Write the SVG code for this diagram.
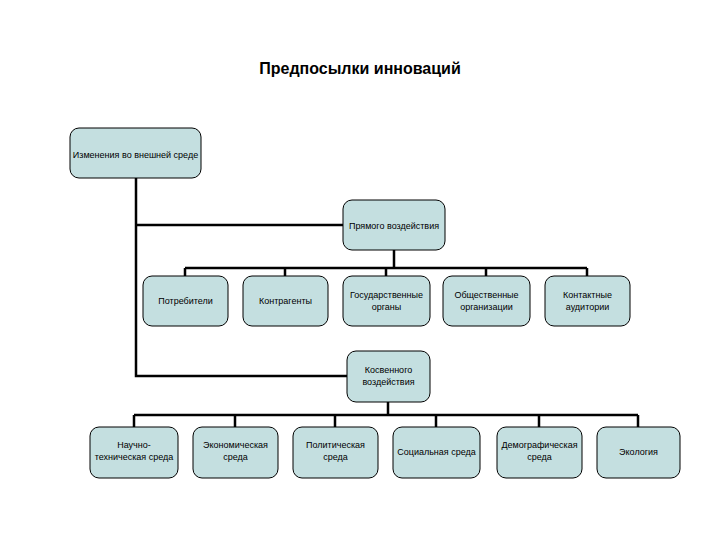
<svg xmlns="http://www.w3.org/2000/svg" width="720" height="540" viewBox="0 0 720 540">
<style>
.b{fill:#c4dfe0;stroke:#000;stroke-width:1}
.t{font-family:"Liberation Sans",Arial,sans-serif;font-size:9px;text-anchor:middle;fill:#000}
.c{stroke:#000;stroke-width:2.5;fill:none}
</style>
<rect width="720" height="540" fill="#fff"/>
<text x="360" y="74" font-family="Liberation Sans,Arial,sans-serif" font-size="16" font-weight="bold" text-anchor="middle">Предпосылки инноваций</text>
<g id="connectors">
<path class="c" d="M136 178V376H347M136 225H343M394 250V268M185 268H587M185 268V276M285 268V276M386 268V276M486 268V276M587 268V276M388 402V415M134 415H638M134 415V427M235 415V427M335 415V427M436 415V427M539 415V427M638 415V427"/>
</g>
<g id="root"><rect class="b" x="70" y="128" width="131" height="50" rx="9"/><text class="t" x="135.5" y="158">Изменения во внешней среде</text></g>
<g id="direct"><rect class="b" x="343" y="200" width="102" height="50" rx="9"/><text class="t" x="394" y="229">Прямого воздействия</text></g>
<g id="n1"><rect class="b" x="143" y="276" width="85" height="50" rx="9"/><text class="t" x="185.5" y="304">Потребители</text></g>
<g id="n2"><rect class="b" x="243" y="276" width="85" height="50" rx="9"/><text class="t" x="285.5" y="304">Контрагенты</text></g>
<g id="n3"><rect class="b" x="343" y="276" width="87" height="50" rx="9"/><text class="t" x="386.5" y="298">Государственные</text><text class="t" x="386.5" y="310">органы</text></g>
<g id="n4"><rect class="b" x="443" y="276" width="87" height="50" rx="9"/><text class="t" x="486.5" y="298">Общественные</text><text class="t" x="486.5" y="310">организации</text></g>
<g id="n5"><rect class="b" x="545" y="276" width="85" height="50" rx="9"/><text class="t" x="587.5" y="298">Контактные</text><text class="t" x="587.5" y="310">аудитории</text></g>
<g id="indirect"><rect class="b" x="347" y="351" width="83" height="51" rx="9"/><text class="t" x="388.5" y="373">Косвенного</text><text class="t" x="388.5" y="385">воздействия</text></g>
<g id="m1"><rect class="b" x="90" y="427" width="88" height="51" rx="9"/><text class="t" x="134" y="448">Научно-</text><text class="t" x="134" y="460">техническая среда</text></g>
<g id="m2"><rect class="b" x="193" y="427" width="85" height="51" rx="9"/><text class="t" x="235.5" y="448">Экономическая</text><text class="t" x="235.5" y="460">среда</text></g>
<g id="m3"><rect class="b" x="293" y="427" width="85" height="51" rx="9"/><text class="t" x="335.5" y="448">Политическая</text><text class="t" x="335.5" y="460">среда</text></g>
<g id="m4"><rect class="b" x="393" y="427" width="87" height="51" rx="9"/><text class="t" x="436.5" y="455">Социальная среда</text></g>
<g id="m5"><rect class="b" x="497" y="427" width="85" height="51" rx="9"/><text class="t" x="539.5" y="448">Демографическая</text><text class="t" x="539.5" y="460">среда</text></g>
<g id="m6"><rect class="b" x="597" y="427" width="83" height="51" rx="9"/><text class="t" x="638.5" y="455">Экология</text></g>
</svg>
